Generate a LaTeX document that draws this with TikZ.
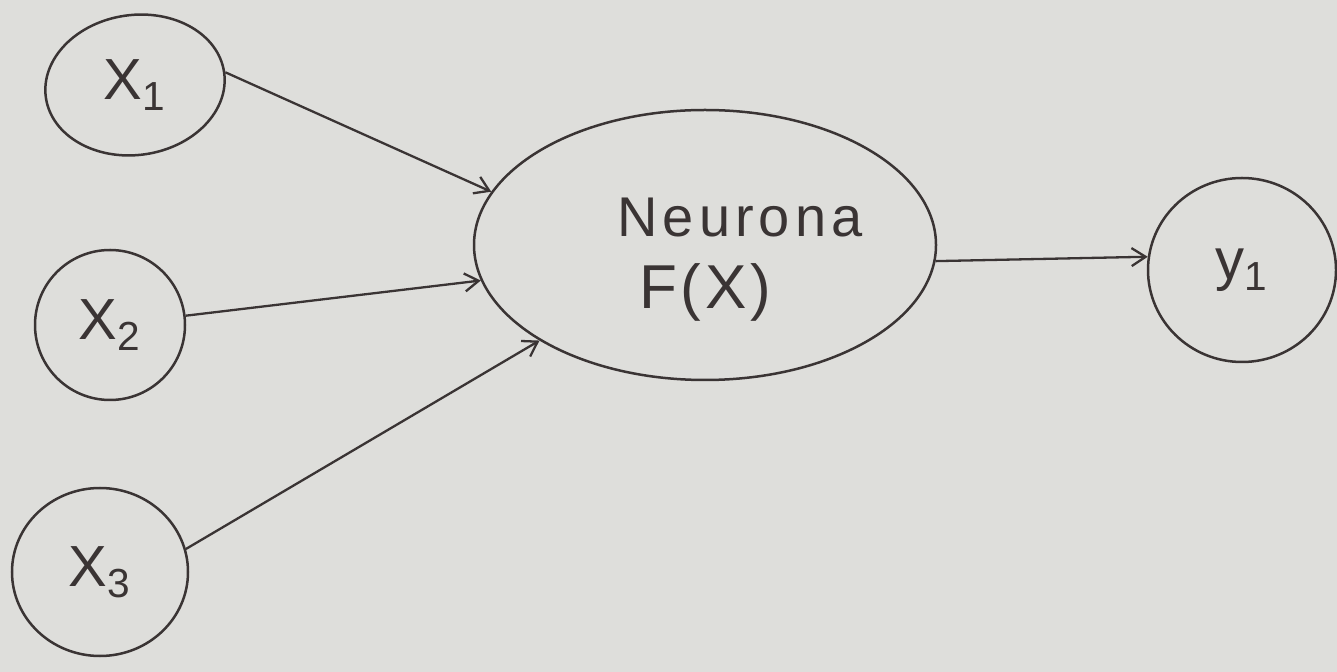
\documentclass[tikz,border=0pt]{standalone}
\usepackage{fontspec}
\setmainfont{Liberation Sans}
\usetikzlibrary{shapes.geometric,arrows.meta}
\definecolor{paper}{HTML}{DEDEDB}
\definecolor{ink}{HTML}{3A3434}
\tikzset{
  circ/.style={draw=ink, line width=1.25pt, ellipse, inner sep=0pt, text=ink},
  conn/.style={draw=ink, line width=1.15pt, -{Straight Barb[length=7pt,width=9pt,line width=1.15pt]}},
  lbl/.style={font=\fontsize{29}{32}\selectfont},
  big/.style={text=ink, inner sep=0pt}
}
\begin{document}
\begin{tikzpicture}[x=0.5pt,y=-0.5pt]
\fill[paper] (0,0) rectangle (1337,672);
\useasboundingbox (0,0) rectangle (1337,672);
\node[circ, minimum width=90pt, minimum height=70pt, rotate=8, lbl] (x1) at (135,85) {\rotatebox{-8}{X\textsubscript{1}}};
\node[circ, minimum width=75pt, minimum height=75pt, lbl] (x2) at (110,325) {X\textsubscript{2}};
\node[circ, minimum width=88pt, minimum height=84pt, lbl] (x3) at (100,572) {X\textsubscript{3}};
\node[circ, minimum width=231pt, minimum height=135pt] (n) at (705,245) {};
\node[big, font=\fontsize{28}{30}\selectfont\addfontfeatures{LetterSpace=9}] (nt) at (740,218) {Neurona};
\node[big, font=\fontsize{31}{34}\selectfont\addfontfeatures{LetterSpace=6}] (ft) at (705,292) {F(X)};
\node[circ, minimum width=94pt, minimum height=92pt, lbl] (y1) at (1242,270) {y\textsubscript{1}};
\draw[conn] (x1.0) -- (n.166);
\draw[conn] (x2.7) -- (n.189);
\draw[conn] (x3.15) -- (n.-150);
\draw[conn] (n.-4) -- (y1.172);
\end{tikzpicture}
\end{document}
